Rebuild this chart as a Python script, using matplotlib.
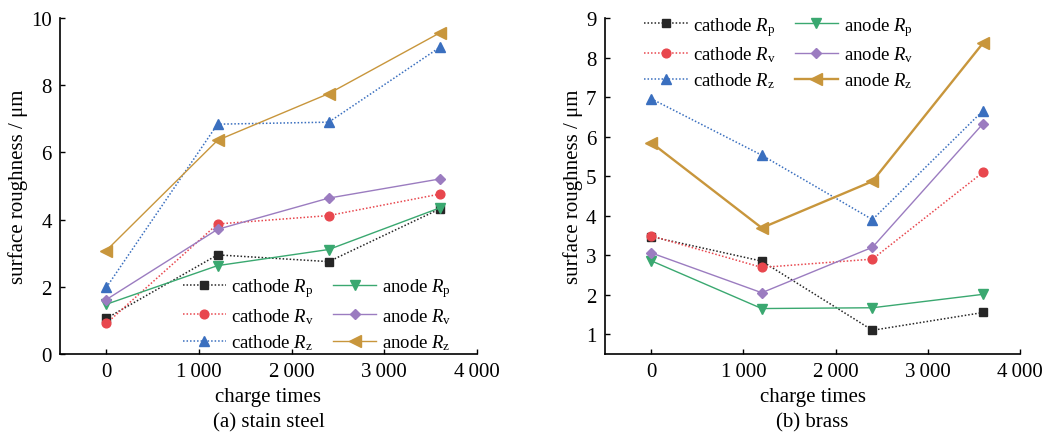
import numpy as np
import matplotlib
matplotlib.use("Agg")
import matplotlib.pyplot as plt
from matplotlib.ticker import FuncFormatter

plt.rcParams['font.family'] = ['Liberation Serif', 'DejaVu Serif']
plt.rcParams['mathtext.fontset'] = 'custom'
plt.rcParams['mathtext.rm'] = 'Liberation Serif'
plt.rcParams['mathtext.it'] = 'Liberation Serif:italic'
plt.rcParams['font.size'] = 15

# charge times
x = [0, 1200, 2400, 3600]

# (a) stainless steel
steel_cat_rp = [1.06, 2.95, 2.75, 4.32]
steel_cat_rv = [0.91, 3.87, 4.12, 4.76]
steel_cat_rz = [1.98, 6.84, 6.90, 9.13]
steel_an_rp = [1.48, 2.63, 3.11, 4.35]
steel_an_rv = [1.62, 3.71, 4.64, 5.21]
steel_an_rz = [3.08, 6.36, 7.75, 9.56]

# (b) brass
brass_cat_rp = [3.47, 2.85, 1.10, 1.55]
brass_cat_rv = [3.49, 2.69, 2.90, 5.10]
brass_cat_rz = [6.96, 5.53, 3.90, 6.66]
brass_an_rp = [2.86, 1.65, 1.67, 2.01]
brass_an_rv = [3.06, 2.05, 3.20, 6.33]
brass_an_rz = [5.85, 3.69, 4.87, 8.37]

labels = ['cathode $\\mathit{R}_\\mathrm{p}$', 'cathode $\\mathit{R}_\\mathrm{v}$',
          'cathode $\\mathit{R}_\\mathrm{z}$', 'anode $\\mathit{R}_\\mathrm{p}$',
          'anode $\\mathit{R}_\\mathrm{v}$', 'anode $\\mathit{R}_\\mathrm{z}$']
colors = ['#262626', '#e8474e', '#3a6fbf', '#3aa870', '#9b7cc0', '#c8963c']
markers = ['s', 'o', '^', 'v', 'D', '<']
msizes = [5.8, 6.3, 7.5, 7.5, 5.3, 8]
dotted = (0, (1, 1.3))
styles = [dotted, dotted, dotted, '-', '-', '-']


def thousands(v, pos):
    return '{:,.0f}'.format(v).replace(',', '\u2009')


def draw_panel(ax, series, ylim, yticks, lw_last, legend_anchor):
    for i, y in enumerate(series):
        lw = 1.1 if i < 3 else 1.0
        if i == 5:
            lw = lw_last
        ax.plot(x, y, linestyle=styles[i], color=colors[i], marker=markers[i],
                markersize=msizes[i], linewidth=lw, label=labels[i])
    ax.set_xlim(-500, 4000)
    ax.set_ylim(*ylim)
    ax.set_xticks([0, 1000, 2000, 3000, 4000])
    ax.set_yticks(yticks)
    ax.xaxis.set_major_formatter(FuncFormatter(thousands))
    ax.spines['top'].set_visible(False)
    ax.spines['right'].set_visible(False)
    for s in ['left', 'bottom']:
        ax.spines[s].set_linewidth(1.2)
    ax.tick_params(direction='in', length=3.5, width=1.0, labelsize=15, pad=6)
    ax.set_xlabel('charge times', fontsize=15, labelpad=4)
    ax.set_ylabel('surface roughness / \u03bcm', fontsize=15, labelpad=2)
    ax.legend(ncol=2, loc='upper left', bbox_to_anchor=legend_anchor, frameon=False,
              fontsize=13.5, handlelength=2.3, handletextpad=0.3, columnspacing=1.0,
              labelspacing=0.35, borderaxespad=0)


fig = plt.figure(figsize=(10.49, 4.35), dpi=100)
ax1 = fig.add_axes([0.0572, 0.1839, 0.3975, 0.7724])
ax2 = fig.add_axes([0.5767, 0.1839, 0.3957, 0.7724])

draw_panel(ax1, [steel_cat_rp, steel_cat_rv, steel_cat_rz, steel_an_rp, steel_an_rv, steel_an_rz],
           (0, 10), [0, 2, 4, 6, 8, 10], 1.0, (0.276, 0.253))
draw_panel(ax2, [brass_cat_rp, brass_cat_rv, brass_cat_rz, brass_an_rp, brass_an_rv, brass_an_rz],
           (0.5, 9), [1, 2, 3, 4, 5, 6, 7, 8, 9], 1.7, (0.077, 1.032))

fig.text(0.2559, 0.027, '(a) stain steel', ha='center', va='center', fontsize=15)
fig.text(0.7745, 0.027, '(b) brass', ha='center', va='center', fontsize=15)

fig.savefig('out.png', dpi=100)
